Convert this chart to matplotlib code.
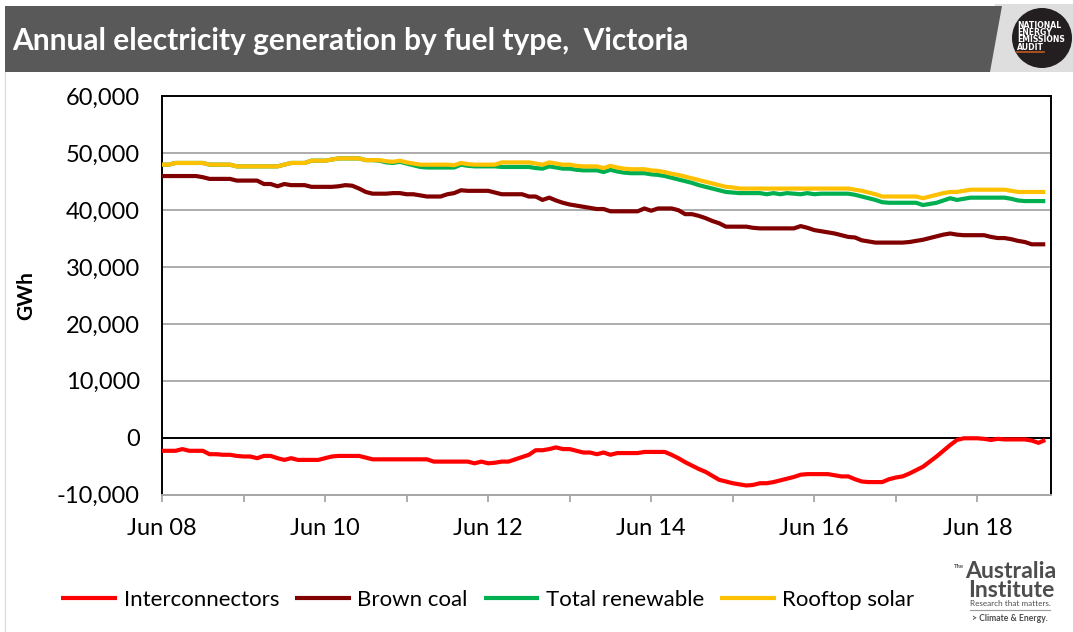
import numpy as np
import matplotlib
matplotlib.use('Agg')
import matplotlib.pyplot as plt
from matplotlib.patches import Polygon, Circle

plt.rcParams['font.family'] = ['Lato', 'DejaVu Sans']

# ---------------- data (thousand GWh, monthly rolling annual totals from Jun 2008) ----------------
series_names = ['Interconnectors', 'Brown coal', 'Total renewable', 'Rooftop solar']
series_colors = ['#FF0000', '#800000', '#00B050', '#FFC000']

interconnectors_k = [
    -2.3, -2.3, -2.3, -2.0, -2.3, -2.3, -2.3, -2.9, -2.9, -3.0,
    -3.0, -3.2, -3.3, -3.3, -3.6, -3.2, -3.2, -3.6, -3.9, -3.6,
    -3.9, -3.9, -3.9, -3.9, -3.6, -3.3, -3.2, -3.2, -3.2, -3.2,
    -3.5, -3.8, -3.8, -3.8, -3.8, -3.8, -3.8, -3.8, -3.8, -3.8,
    -4.2, -4.2, -4.2, -4.2, -4.2, -4.2, -4.5, -4.2, -4.5, -4.4,
    -4.2, -4.2, -3.8, -3.4, -3.0, -2.2, -2.2, -2.0, -1.7, -2.0,
    -2.0, -2.3, -2.6, -2.6, -2.9, -2.6, -3.0, -2.7, -2.7, -2.7,
    -2.7, -2.5, -2.5, -2.5, -2.5, -3.0, -3.6, -4.3, -4.9, -5.5,
    -6.0, -6.7, -7.4, -7.7, -8.0, -8.2, -8.4, -8.3, -8.0, -8.0,
    -7.8, -7.5, -7.2, -6.9, -6.5, -6.4, -6.4, -6.4, -6.4, -6.6,
    -6.8, -6.8, -7.3, -7.7, -7.8, -7.8, -7.8, -7.3, -7.0, -6.8,
    -6.3, -5.7, -5.1, -4.2, -3.3, -2.3, -1.3, -0.4, -0.1, -0.1,
    -0.1, -0.2, -0.4, -0.2, -0.3, -0.3, -0.3, -0.3, -0.5, -0.9, -0.4]

brown_coal_k = [
    46.0, 46.0, 46.0, 46.0, 46.0, 46.0, 45.8, 45.5, 45.5, 45.5,
    45.5, 45.2, 45.2, 45.2, 45.2, 44.6, 44.6, 44.2, 44.6, 44.4,
    44.4, 44.4, 44.1, 44.1, 44.1, 44.1, 44.2, 44.4, 44.3, 43.8,
    43.2, 42.9, 42.9, 42.9, 43.0, 43.0, 42.8, 42.8, 42.6, 42.4,
    42.4, 42.4, 42.8, 43.0, 43.5, 43.4, 43.4, 43.4, 43.4, 43.1,
    42.8, 42.8, 42.8, 42.8, 42.4, 42.4, 41.8, 42.2, 41.7, 41.3,
    41.0, 40.8, 40.6, 40.4, 40.2, 40.2, 39.8, 39.8, 39.8, 39.8,
    39.8, 40.3, 39.9, 40.3, 40.3, 40.3, 40.0, 39.3, 39.3, 39.0,
    38.6, 38.1, 37.7, 37.1, 37.1, 37.1, 37.1, 36.9, 36.8, 36.8,
    36.8, 36.8, 36.8, 36.8, 37.2, 36.9, 36.5, 36.3, 36.1, 35.9,
    35.6, 35.3, 35.2, 34.7, 34.5, 34.3, 34.3, 34.3, 34.3, 34.3,
    34.4, 34.6, 34.8, 35.1, 35.4, 35.7, 35.9, 35.7, 35.6, 35.6,
    35.6, 35.6, 35.3, 35.1, 35.1, 34.9, 34.6, 34.4, 34.0, 34.0, 34.0]

total_renewable_k = [
    48.0, 48.0, 48.3, 48.3, 48.3, 48.3, 48.3, 48.0, 48.0, 48.0,
    48.0, 47.7, 47.7, 47.7, 47.7, 47.7, 47.7, 47.7, 48.0, 48.3,
    48.3, 48.3, 48.7, 48.7, 48.7, 48.9, 49.1, 49.1, 49.1, 49.1,
    48.8, 48.8, 48.7, 48.4, 48.3, 48.5, 48.2, 47.9, 47.6, 47.5,
    47.5, 47.5, 47.5, 47.5, 48.0, 47.8, 47.7, 47.7, 47.7, 47.7,
    47.6, 47.6, 47.6, 47.6, 47.6, 47.4, 47.3, 47.7, 47.5, 47.3,
    47.3, 47.1, 47.0, 47.0, 47.0, 46.7, 47.1, 46.8, 46.6, 46.5,
    46.5, 46.5, 46.3, 46.2, 46.0, 45.7, 45.4, 45.1, 44.8, 44.4,
    44.1, 43.8, 43.5, 43.2, 43.1, 43.0, 43.0, 43.0, 43.0, 42.8,
    43.0, 42.8, 43.0, 42.9, 42.8, 43.0, 42.8, 42.9, 42.9, 42.9,
    42.9, 42.9, 42.7, 42.4, 42.1, 41.8, 41.4, 41.3, 41.3, 41.3,
    41.3, 41.3, 40.9, 41.1, 41.3, 41.7, 42.1, 41.8, 42.0, 42.2,
    42.2, 42.2, 42.2, 42.2, 42.2, 42.0, 41.7, 41.6, 41.6, 41.6, 41.6]

rooftop_solar_k = [
    48.0, 48.0, 48.3, 48.3, 48.3, 48.3, 48.3, 48.0, 48.0, 48.0,
    48.0, 47.7, 47.7, 47.7, 47.7, 47.7, 47.7, 47.7, 48.0, 48.3,
    48.3, 48.3, 48.7, 48.7, 48.7, 48.9, 49.1, 49.1, 49.1, 49.1,
    48.8, 48.8, 48.8, 48.6, 48.5, 48.7, 48.4, 48.2, 48.0, 48.0,
    48.0, 48.0, 48.0, 47.9, 48.3, 48.1, 48.0, 48.0, 48.0, 48.0,
    48.4, 48.4, 48.4, 48.4, 48.4, 48.2, 48.0, 48.4, 48.2, 48.0,
    48.0, 47.8, 47.7, 47.7, 47.7, 47.4, 47.8, 47.5, 47.3, 47.2,
    47.2, 47.2, 47.0, 46.9, 46.7, 46.4, 46.2, 45.9, 45.6, 45.3,
    45.0, 44.7, 44.4, 44.1, 44.0, 43.8, 43.8, 43.8, 43.8, 43.8,
    43.8, 43.8, 43.8, 43.8, 43.8, 43.8, 43.8, 43.8, 43.8, 43.8,
    43.8, 43.8, 43.6, 43.4, 43.1, 42.8, 42.4, 42.4, 42.4, 42.4,
    42.4, 42.4, 42.1, 42.4, 42.7, 43.0, 43.2, 43.2, 43.4, 43.6,
    43.6, 43.6, 43.6, 43.6, 43.6, 43.4, 43.2, 43.2, 43.2, 43.2, 43.2]

x_tick_labels = ['Jun 08', '', 'Jun 10', '', 'Jun 12', '', 'Jun 14', '', 'Jun 16', '', 'Jun 18']
y_ticks = [-10000, 0, 10000, 20000, 30000, 40000, 50000, 60000]

series_values = [interconnectors_k, brown_coal_k, total_renewable_k, rooftop_solar_k]

# ---------------- figure ----------------
W, H = 1073, 632
fig = plt.figure(figsize=(W / 100, H / 100), dpi=100)
fig.patch.set_facecolor('white')

L, R, T, B = 162, 1050.7, 96.4, 494.6
ax = fig.add_axes([L / W, 1 - B / H, (R - L) / W, (B - T) / H])

for vals, name, col in zip(series_values, series_names, series_colors):
    y = np.array(vals) * 1000.0
    ax.plot(np.arange(len(y)), y, color=col, lw=3.0, label=name, zorder=3,
            solid_joinstyle='round', solid_capstyle='butt')

ax.axhline(0, color='black', lw=1.4, zorder=2)
ax.set_ylim(-10000, 60000)
ax.set_xlim(0, 130.8)
ax.set_yticks(y_ticks)
ax.set_yticklabels([f'{v:,}' for v in y_ticks])
ax.set_xticks(np.arange(len(x_tick_labels)) * 12)
ax.set_xticklabels(x_tick_labels)
for g in [10000, 20000, 30000, 40000, 50000]:
    ax.axhline(g, color='#A6A6A6', lw=1.3, zorder=1)

for s in ['left', 'top', 'right']:
    ax.spines[s].set_color('black')
    ax.spines[s].set_linewidth(1.4)
ax.spines['bottom'].set_color('#A6A6A6')
ax.spines['bottom'].set_linewidth(1.4)

ax.tick_params(axis='y', length=0, pad=16, labelsize=17)
ax.tick_params(axis='x', length=5, width=1.3, color='#A6A6A6', direction='out', pad=12, labelsize=17)
ax.set_ylabel('GWh', fontsize=15, fontweight='bold')
ax.yaxis.set_label_coords(-(L - 36) / (R - L), 0.5)

leg = ax.legend(loc='center', bbox_to_anchor=(488 / W, 1 - 600 / H), bbox_transform=fig.transFigure,
                ncol=4, frameon=False, fontsize=16, handlelength=2.5, handletextpad=0.3,
                columnspacing=0.72)
for ln in leg.get_lines():
    ln.set_linewidth(3.0)

# ---------------- overlay (header & logos) in pixel coordinates ----------------
ov = fig.add_axes([0, 0, 1, 1], zorder=5)
ov.set_xlim(0, W)
ov.set_ylim(H, 0)
ov.axis('off')

ov.add_patch(Polygon([(995, 4), (W, 4), (W, 72), (983, 72)], closed=True,
                     facecolor='#DEDEDE', edgecolor='none'))
ov.add_patch(Polygon([(5, 6), (1002, 6), (990, 72), (5, 72)], closed=True,
                     facecolor='#595959', edgecolor='none'))
ov.plot([5, 5], [72, H], color='#D9D9D9', lw=0.8)

renderer = fig.canvas.get_renderer()

def fit(t, target_w):
    bb = t.get_window_extent(renderer)
    t.set_fontsize(t.get_fontsize() * target_w / bb.width)

title = ov.text(12, 41, 'Annual electricity generation by fuel type,  Victoria', color='white',
                fontsize=20, fontweight='bold', ha='left', va='center')
fit(title, 676)

ov.add_patch(Circle((1042, 38), 30, facecolor='#231F20', edgecolor='none'))
for i, (word, wdt) in enumerate(zip(['NATIONAL', 'ENERGY', 'EMISSIONS', 'AUDIT'], [49, 36, 51, 27])):
    tw = ov.text(1017, 25 + i * 7.4, word, color='white', fontsize=5.2, fontweight='bold',
                 ha='left', va='center', family=['DejaVu Sans'])
    fit(tw, wdt)
    tw.set_fontsize(min(tw.get_fontsize(), 5.6))
ov.plot([1017, 1044], [51.5, 51.5], color='#C05A1E', lw=1.2)

grey = '#4D4D4D'
tt = ov.text(954, 567, 'The', color=grey, fontsize=5.5, fontweight='bold', ha='left', va='center')
fit(tt, 10)
t1 = ov.text(1011, 581, 'Australia\nInstitute', color=grey, fontsize=14, fontweight='bold',
             ha='center', va='center', multialignment='center', linespacing=0.85)
fit(t1, 92)
t3 = ov.text(970, 603, 'Research that matters.', color=grey, fontsize=7, ha='left', va='center')
fit(t3, 80)
ov.plot([970, 1050], [610, 610], color='#9A9A9A', lw=0.8)
t4 = ov.text(972, 618.5, '> Climate & Energy.', color=grey, fontsize=7, fontweight='bold', ha='left', va='center')
fit(t4, 77)

fig.savefig('out.png', dpi=100)
